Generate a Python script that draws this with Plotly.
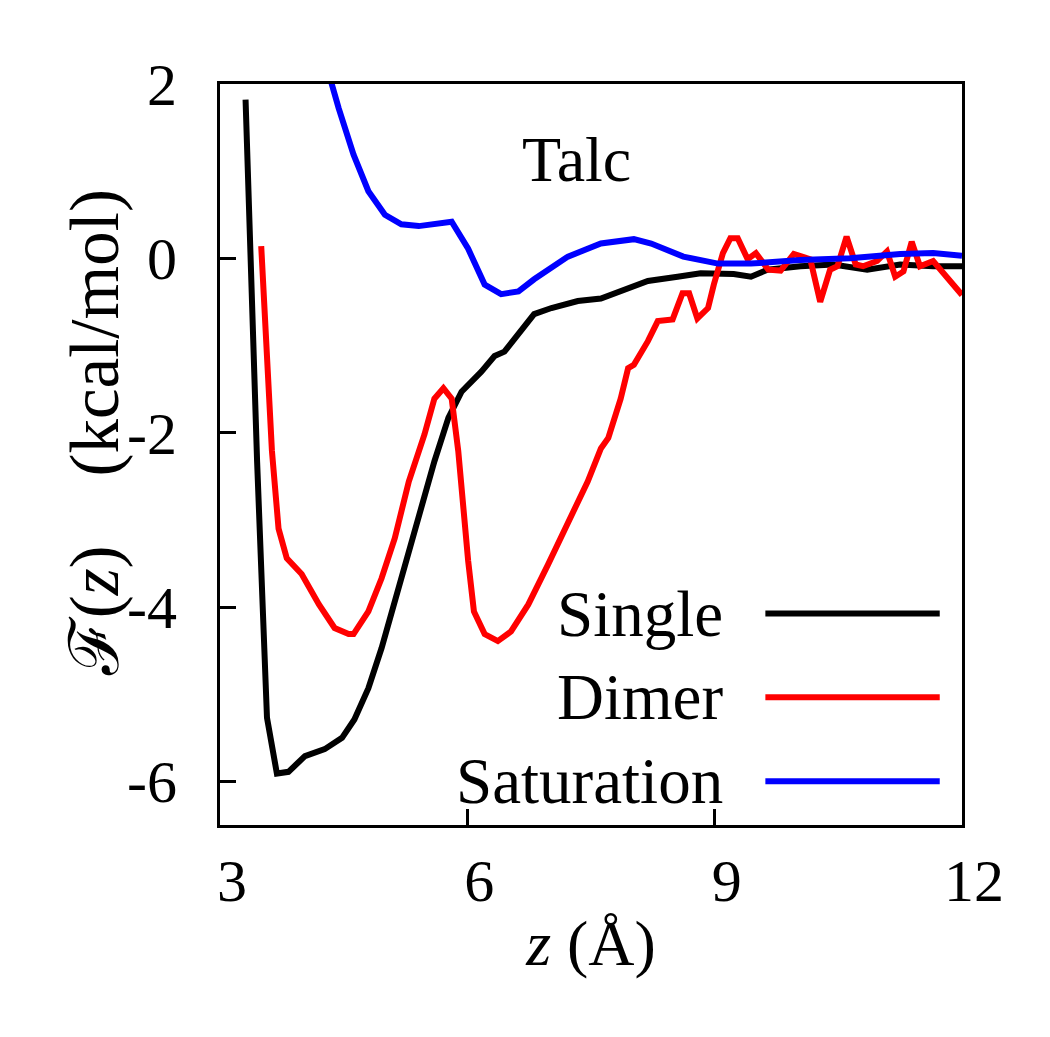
import plotly.graph_objects as go

# ---- data ----
single_x = [3.31, 3.45, 3.57, 3.69, 3.83, 4.03, 4.27, 4.48, 4.63, 4.80, 4.96, 5.12, 5.29, 5.44,
            5.60, 5.77, 5.93, 6.17, 6.33, 6.45, 6.65, 6.81, 7.02, 7.34, 7.62, 7.90, 8.19, 8.55,
            8.83, 9.23, 9.44, 9.64, 10.04, 10.44, 10.85, 11.25, 11.65, 12.0]
single_y = [1.82, -2.33, -5.27, -5.91, -5.89, -5.71, -5.63, -5.50, -5.29, -4.93, -4.47, -3.93,
            -3.39, -2.87, -2.33, -1.83, -1.53, -1.30, -1.12, -1.07, -0.84, -0.64, -0.57, -0.49,
            -0.46, -0.36, -0.26, -0.21, -0.17, -0.18, -0.21, -0.13, -0.09, -0.07, -0.13, -0.07,
            -0.09, -0.09]

dimer_x = [3.50, 3.53, 3.63, 3.71, 3.81, 3.99, 4.20, 4.39, 4.56, 4.62, 4.80, 4.96, 5.12, 5.29,
           5.48, 5.60, 5.71, 5.81, 5.89, 6.01, 6.08, 6.21, 6.37, 6.53, 6.74, 6.98, 7.22, 7.46,
           7.62, 7.71, 7.86, 7.95, 8.02, 8.19, 8.31, 8.49, 8.61, 8.69, 8.79, 8.92, 8.99, 9.10,
           9.19, 9.28, 9.40, 9.50, 9.65, 9.80, 9.96, 10.16, 10.28, 10.40, 10.49, 10.60, 10.71,
           10.80, 10.97, 11.09, 11.19, 11.29, 11.39, 11.49, 11.65, 11.82, 12.0]
dimer_y = [0.14, -0.49, -2.21, -3.10, -3.44, -3.62, -3.97, -4.24, -4.31, -4.31, -4.05, -3.67,
           -3.21, -2.56, -2.02, -1.61, -1.49, -1.61, -2.21, -3.47, -4.05, -4.31, -4.39, -4.28,
           -3.97, -3.51, -3.02, -2.56, -2.18, -2.06, -1.61, -1.26, -1.22, -0.95, -0.72, -0.70,
           -0.40, -0.40, -0.69, -0.57, -0.30, 0.06, 0.23, 0.23, -0.01, 0.06, -0.13, -0.14, 0.05,
           -0.01, -0.50, -0.13, -0.09, 0.25, -0.07, -0.09, -0.03, 0.08, -0.21, -0.15, 0.19, -0.09,
           -0.03, -0.23, -0.42]

sat_x = [4.31, 4.44, 4.62, 4.80, 5.00, 5.20, 5.41, 5.60, 5.81, 6.01, 6.21, 6.41, 6.62, 6.81,
         7.22, 7.62, 8.02, 8.23, 8.62, 9.04, 9.44, 10.04, 10.64, 11.25, 11.65, 12.0]
sat_y = [2.15, 1.72, 1.19, 0.77, 0.50, 0.39, 0.37, 0.40, 0.42, 0.11, -0.30, -0.41, -0.38, -0.24,
         0.02, 0.17, 0.22, 0.17, 0.02, -0.06, -0.06, -0.02, 0.00, 0.05, 0.06, 0.03]

series_names = ["Single", "Dimer", "Saturation"]
series_colors = ["#000000", "#ff0000", "#0000ff"]

x_ticks = [3, 6, 9, 12]
x_ticktext = ["3", "6", "9", "12"]
y_ticks = [2, 0, -2, -4, -6]
y_ticktext = ["2", "0", "-2", "-4", "-6"]

FONT = "Liberation Serif"
LW = 6

fig = go.Figure()
for xs, ys, name, col in zip([single_x, dimer_x, sat_x], [single_y, dimer_y, sat_y],
                             series_names, series_colors):
    fig.add_trace(go.Scatter(x=xs, y=ys, mode="lines", name=name,
                             line=dict(color=col, width=LW), showlegend=False))

# legend drawn as text + sample lines (text to the left of line, as in reference)
leg_y = [0.2853, 0.1723, 0.0592]
for name, col, yy in zip(series_names, series_colors, leg_y):
    fig.add_annotation(x=0.680, y=yy, xref="paper", yref="paper", text=name,
                       showarrow=False, xanchor="right", yanchor="middle",
                       font=dict(family=FONT, size=65, color="black"))
    fig.add_shape(type="line", xref="paper", yref="paper", x0=0.735, x1=0.970, y0=yy, y1=yy,
                  line=dict(color=col, width=LW))

fig.add_annotation(x=0.48, y=0.898, xref="paper", yref="paper", text="Talc",
                   showarrow=False, xanchor="center", yanchor="middle",
                   font=dict(family=FONT, size=64, color="black"))

# y-axis title
fig.add_annotation(x=-0.168, y=0.529, xref="paper", yref="paper",
                   text="ℱ(<i>z</i>)    (kcal/mol)", textangle=-90,
                   showarrow=False, xanchor="center", yanchor="middle",
                   font=dict(family=FONT, size=69, color="black"))

fig.update_layout(
    width=1050, height=1037,
    margin=dict(l=212, r=96, t=76, b=220),
    paper_bgcolor="white", plot_bgcolor="white",
    font=dict(family=FONT, size=60, color="black"),
    xaxis=dict(range=[3, 12], tickvals=x_ticks, ticktext=x_ticktext,
               ticks="inside", ticklen=16, tickwidth=2.5, tickcolor="black",
               showline=True, linecolor="black", linewidth=3, mirror=True,
               showgrid=False, zeroline=False, ticklabelstandoff=1, ticklabelshift=12,
               title=dict(text="<i>z</i> (Å)", font=dict(size=64), standoff=8)),
    yaxis=dict(range=[-6.5, 2], tickvals=y_ticks, ticktext=y_ticktext,
               ticks="inside", ticklen=16, tickwidth=2.5, tickcolor="black",
               showline=True, linecolor="black", linewidth=3, mirror=True,
               showgrid=False, zeroline=False, ticklabelstandoff=28),
)

fig.write_html("out.html")
